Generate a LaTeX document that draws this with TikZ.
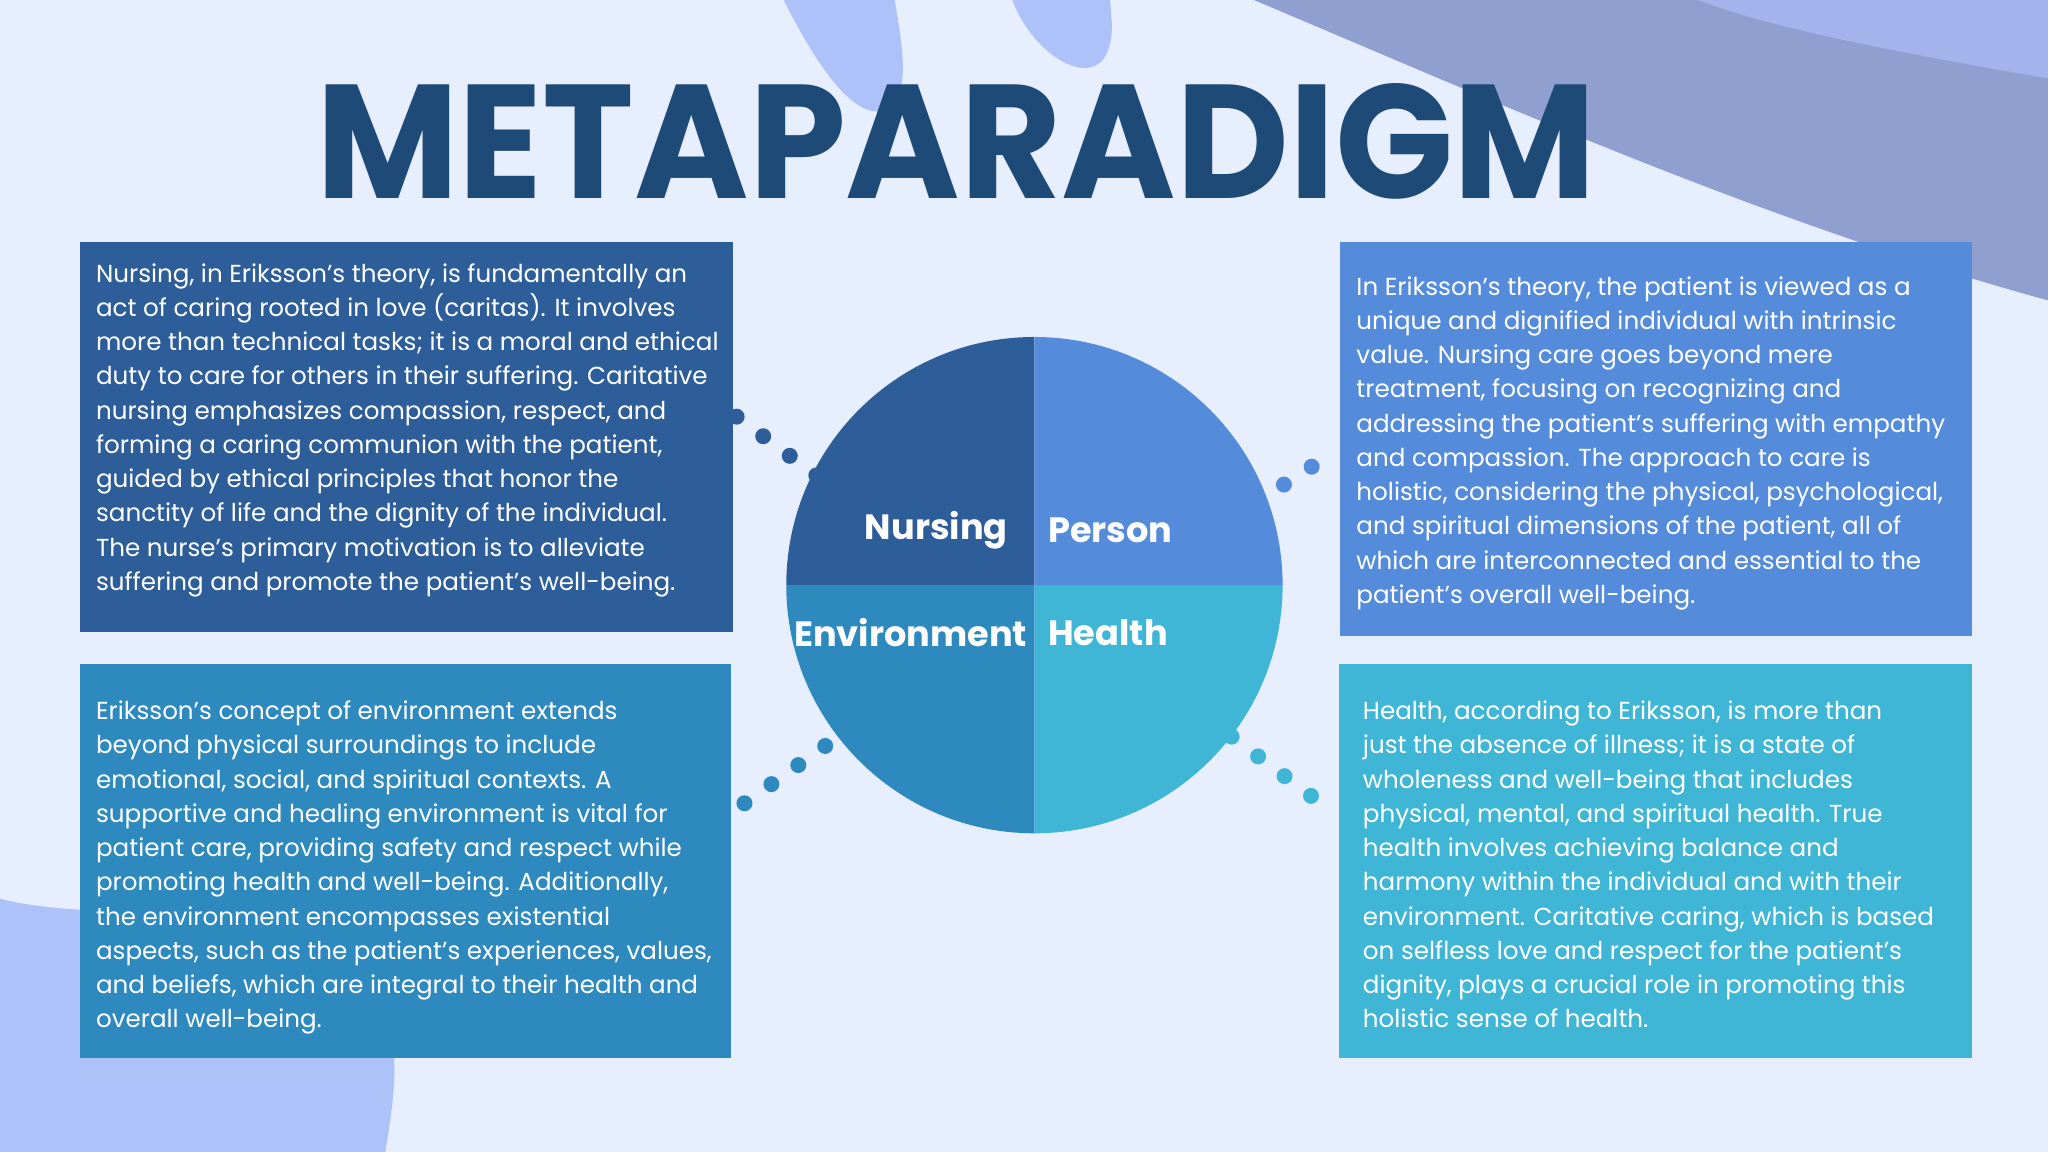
\documentclass[tikz,border=0pt]{standalone}
\usepackage{fontspec}
\setmainfont{Poppins}
\definecolor{bg}{HTML}{E7EEFD}
\definecolor{blob}{HTML}{ADC2F8}
\definecolor{band}{HTML}{8E9FD0}
\definecolor{bandb}{HTML}{A3B4EC}
\definecolor{title}{HTML}{1E4A78}
\definecolor{cN}{HTML}{2D5E99}
\definecolor{cP}{HTML}{548CDB}
\definecolor{cE}{HTML}{2E8ABE}
\definecolor{cH}{HTML}{40B6D6}
\tikzset{
 txt/.style={text=white,align=left,font=\fontsize{7.0}{9.75}\selectfont,anchor=north west,inner sep=0pt},
 lab/.style={text=white,font=\fontsize{10}{12}\selectfont\bfseries,inner sep=0pt},
 dots/.style={line width=0.16cm,line cap=round,dash pattern=on 0pt off 0.33cm}
}
\begin{document}
\begin{tikzpicture}[x=0.013061cm,y=-0.013061cm]
\useasboundingbox (0,0) rectangle (1568,882);
\fill[bg] (0,0) rectangle (1568,882);
% background shapes
\fill[bandb] (1000,0) .. controls (1200,60) and (1400,120) .. (1568,150) -- (1568,0) -- cycle;
\fill[band] (960,0) .. controls (1150,80) and (1350,170) .. (1568,230) -- (1568,60) .. controls (1450,40) and (1350,20) .. (1300,0) -- cycle;
\fill[blob] (600,0) .. controls (620,40) and (650,90) .. (675,85) .. controls (700,80) and (690,30) .. (685,0) -- cycle;
\fill[blob] (775,0) .. controls (790,40) and (830,65) .. (845,45) .. controls (855,30) and (850,10) .. (850,0) -- cycle;
\fill[blob] (0,688) .. controls (80,710) and (250,680) .. (290,760) .. controls (310,800) and (300,850) .. (295,882) -- (0,882) -- cycle;
% title
\node[inner sep=0pt,text=title] (title) at (732,108) {\resizebox{12.8cm}{1.15cm}{\fontsize{40}{40}\selectfont\bfseries METAPARADIGM}};
% boxes
\fill[cN] (61,185) rectangle (561,484);
\fill[cP] (1026,185) rectangle (1510,487);
\fill[cE] (61,508) rectangle (560,810);
\fill[cH] (1025,508) rectangle (1510,810);
\node[txt] (tN) at (73,201) {Nursing, in Eriksson’s theory, is fundamentally an\\act of caring rooted in love (caritas). It involves\\more than technical tasks; it is a moral and ethical\\duty to care for others in their suffering. Caritative\\nursing emphasizes compassion, respect, and\\forming a caring communion with the patient,\\guided by ethical principles that honor the\\sanctity of life and the dignity of the individual.\\The nurse’s primary motivation is to alleviate\\suffering and promote the patient’s well-being.};
\node[txt] (tP) at (1038,211) {In Eriksson’s theory, the patient is viewed as a\\unique and dignified individual with intrinsic\\value. Nursing care goes beyond mere\\treatment, focusing on recognizing and\\addressing the patient’s suffering with empathy\\and compassion. The approach to care is\\holistic, considering the physical, psychological,\\and spiritual dimensions of the patient, all of\\which are interconnected and essential to the\\patient’s overall well-being.};
\node[txt] (tE) at (73,536) {Eriksson’s concept of environment extends\\beyond physical surroundings to include\\emotional, social, and spiritual contexts. A\\supportive and healing environment is vital for\\patient care, providing safety and respect while\\promoting health and well-being. Additionally,\\the environment encompasses existential\\aspects, such as the patient’s experiences, values,\\and beliefs, which are integral to their health and\\overall well-being.};
\node[txt] (tH) at (1043,536) {Health, according to Eriksson, is more than\\just the absence of illness; it is a state of\\wholeness and well-being that includes\\physical, mental, and spiritual health. True\\health involves achieving balance and\\harmony within the individual and with their\\environment. Caritative caring, which is based\\on selfless love and respect for the patient’s\\dignity, plays a crucial role in promoting this\\holistic sense of health.};
% circle
\coordinate (c) at (792,448);
\fill[cN] (c) -- (602,448) arc[start angle=180,end angle=270,radius=190] -- cycle;
\fill[cP] (c) -- (792,258) arc[start angle=270,end angle=360,radius=190] -- cycle;
\fill[cH] (c) -- (982,448) arc[start angle=0,end angle=90,radius=190] -- cycle;
\fill[cE] (c) -- (792,638) arc[start angle=90,end angle=180,radius=190] -- cycle;
\node[lab,anchor=east] (lN) at (772,406) {Nursing};
\node[lab,anchor=west] (lP) at (802,406) {Person};
\node[lab,anchor=east] (lE) at (787,484) {Environment};
\node[lab,anchor=west] (lH) at (802,484) {Health};
% dotted connectors
\coordinate (n1) at (564,319); \coordinate (n2) at (625,364);
\coordinate (p1) at (983,371); \coordinate (p2) at (1025,344);
\coordinate (e1) at (570,615); \coordinate (e2) at (632,571);
\coordinate (h1) at (943,564); \coordinate (h2) at (1022,623);
\draw[dots,cN] (n1) -- (n2);
\draw[dots,cP] (p1) -- (p2);
\draw[dots,cE] (e1) -- (e2);
\draw[dots,cH] (h1) -- (h2);
\end{tikzpicture}
\end{document}
